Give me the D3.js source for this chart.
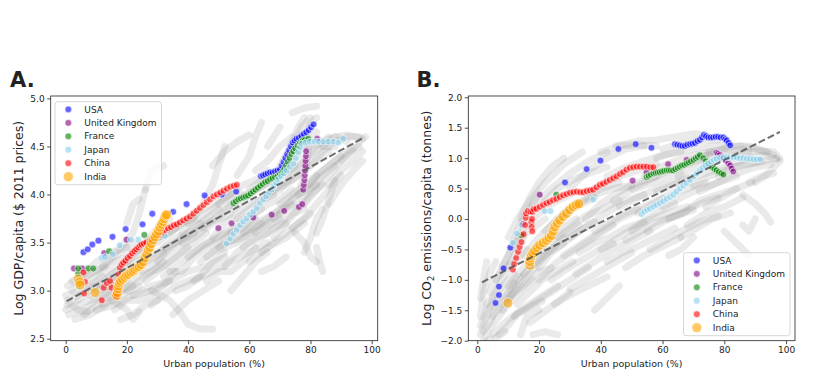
<!DOCTYPE html>
<html>
<head>
<meta charset="utf-8">
<script src="https://cdn.jsdelivr.net/npm/d3@7"></script>
<style>
  body { margin: 0; background: #fff; }
  svg text { font-family: "DejaVu Sans", sans-serif; fill: #222; }
</style>
</head>
<body>
<svg id="chart" width="831" height="376"></svg>
<script>
'use strict';

// Country series, panel A: [urban %, log GDP/capita]
const usaGdp = [[5.8,3.40],[7.2,3.43],[8.7,3.48],[10.7,3.52],[15.3,3.56],[19.6,3.64],[25.1,3.69],[28.3,3.80],[35.1,3.82],[39.5,3.90],[45.4,3.99],[51.0,4.00],[55.7,4.03],[63.8,4.19],[64.5,4.20],[65.2,4.21],[66.0,4.22],[66.8,4.23],[67.6,4.23],[68.4,4.24],[69.2,4.25],[70.0,4.26],[70.6,4.30],[71.2,4.34],[71.8,4.38],[72.4,4.42],[73.0,4.46],[73.6,4.50],[74.2,4.54],[74.8,4.56],[75.4,4.58],[76.2,4.59],[77.0,4.61],[77.8,4.63],[78.6,4.65],[79.4,4.67],[80.2,4.70],[81.0,4.73]];
const ukGdp = [[2.7,3.23],[5.4,3.23],[12.6,3.39],[19.9,3.53],[49.9,3.65],[54.2,3.70],[61.3,3.76],[67.3,3.79],[71.4,3.83],[76.2,3.87],[77.3,3.90],[77.6,4.05],[77.8,4.10],[78.0,4.15],[78.1,4.20],[78.2,4.25],[78.3,4.30],[78.4,4.35],[78.5,4.40],[78.6,4.45],[82.2,4.58]];
const franceGdp = [[4.1,3.18],[4.1,3.23],[7.4,3.23],[9.0,3.23],[14.2,3.41],[25.7,3.58],[54.8,3.91],[55.6,3.93],[56.4,3.95],[57.2,3.96],[58.0,3.97],[58.8,3.98],[59.6,3.99],[60.4,4.01],[61.2,4.03],[62.0,4.05],[62.8,4.07],[63.6,4.09],[64.4,4.11],[65.2,4.13],[66.0,4.14],[66.8,4.16],[67.6,4.17],[68.4,4.18],[69.2,4.19],[70.0,4.21],[70.8,4.23],[71.4,4.26],[72.0,4.30],[72.6,4.34],[73.2,4.38],[73.8,4.42],[74.4,4.45],[75.0,4.48],[75.8,4.51],[76.6,4.54],[77.4,4.56],[78.2,4.57],[79.3,4.58]];
const japanGdp = [[4.3,3.04],[4.8,3.07],[11.8,3.34],[12.8,3.35],[15.4,3.38],[17.7,3.47],[21.3,3.53],[23.7,3.53],[32.4,3.57],[52.6,3.49],[53.7,3.54],[54.8,3.59],[55.9,3.63],[57.0,3.68],[58.0,3.72],[59.1,3.75],[60.2,3.79],[61.3,3.82],[62.4,3.86],[63.5,3.91],[64.6,3.95],[65.5,3.98],[66.4,4.02],[67.3,4.05],[68.0,4.09],[68.8,4.12],[69.5,4.16],[70.4,4.19],[71.3,4.22],[72.2,4.25],[73.3,4.29],[74.4,4.32],[75.2,4.38],[76.0,4.44],[76.6,4.49],[77.1,4.53],[78.4,4.54],[79.8,4.55],[81.3,4.55],[82.7,4.55],[84.2,4.55],[85.8,4.55],[87.5,4.55],[89.1,4.54],[90.7,4.58]];
const chinaGdp = [[5.8,3.19],[6.3,3.09],[6.0,2.97],[11.8,2.90],[12.4,3.03],[13.4,3.08],[14.5,3.10],[15.0,3.03],[16.1,2.96],[16.6,2.94],[17.0,3.00],[17.2,3.10],[17.3,3.17],[17.7,3.24],[18.3,3.27],[18.8,3.29],[19.5,3.31],[20.2,3.34],[21.0,3.36],[21.7,3.39],[22.4,3.41],[23.0,3.43],[23.7,3.45],[24.3,3.47],[24.8,3.48],[25.5,3.49],[26.3,3.50],[27.5,3.52],[29.0,3.55],[30.5,3.58],[31.5,3.61],[32.4,3.63],[33.4,3.65],[34.4,3.66],[35.3,3.68],[36.3,3.69],[37.3,3.71],[38.4,3.73],[39.5,3.75],[40.6,3.77],[41.7,3.80],[42.8,3.83],[43.9,3.86],[45.0,3.89],[46.1,3.92],[47.2,3.95],[48.3,3.98],[49.4,4.00],[50.5,4.02],[51.6,4.04],[52.7,4.06],[53.8,4.08],[54.9,4.09],[55.9,4.10]];
const indiaGdp = [[4.1,3.12],[4.5,3.09],[4.7,3.06],[9.6,2.98],[16.7,2.95],[16.9,2.98],[17.1,3.02],[17.3,3.05],[17.6,3.08],[18.0,3.10],[18.6,3.12],[19.3,3.14],[19.9,3.16],[20.6,3.17],[21.3,3.19],[22.0,3.20],[22.6,3.22],[23.3,3.24],[24.0,3.25],[24.6,3.27],[25.3,3.30],[25.9,3.34],[26.5,3.38],[27.0,3.42],[27.5,3.45],[28.0,3.49],[28.6,3.53],[29.2,3.56],[29.7,3.59],[30.3,3.62],[30.8,3.66],[31.3,3.69],[31.8,3.72],[32.2,3.75],[32.6,3.78],[33.0,3.79]];

// Country series, panel B: [urban %, log CO2/capita]
const usaCo2 = [[5.9,-1.38],[7.0,-1.25],[7.0,-1.11],[8.5,-0.81],[10.7,-0.47],[28.4,0.60],[35.4,0.82],[39.9,0.96],[45.7,1.15],[51.3,1.23],[56.4,1.17],[64.0,1.23],[64.8,1.22],[65.6,1.21],[66.4,1.20],[67.2,1.20],[68.0,1.22],[68.9,1.23],[69.7,1.24],[70.5,1.25],[71.3,1.28],[72.1,1.30],[72.8,1.34],[73.4,1.38],[74.1,1.36],[74.8,1.34],[75.6,1.34],[76.4,1.34],[77.2,1.35],[78.0,1.35],[78.8,1.34],[79.7,1.34],[80.3,1.31],[80.8,1.29],[81.4,1.25],[81.9,1.21]];
const ukCo2 = [[14.8,-0.08],[20.2,0.40],[50.3,0.63],[54.8,0.77],[61.8,0.90],[67.8,0.97],[77.5,1.09],[78.0,1.07],[78.6,1.05],[79.2,1.02],[79.7,1.00],[80.5,0.96],[81.3,0.92],[81.9,0.88],[82.4,0.83],[82.9,0.78]];
const franceCo2 = [[14.3,-0.27],[25.6,0.40],[54.8,0.69],[55.5,0.71],[56.2,0.73],[57.0,0.75],[57.7,0.76],[58.4,0.77],[59.1,0.77],[59.8,0.78],[60.5,0.79],[61.3,0.80],[62.0,0.80],[62.7,0.80],[63.4,0.80],[64.1,0.82],[64.9,0.84],[65.6,0.86],[66.3,0.88],[67.0,0.89],[67.8,0.91],[68.5,0.93],[69.2,0.95],[70.0,0.97],[70.7,1.00],[71.4,1.02],[72.1,1.05],[73.2,1.00],[74.0,0.95],[74.7,0.91],[75.4,0.88],[76.1,0.85],[76.8,0.82],[77.5,0.80],[78.2,0.77],[79.0,0.75],[79.7,0.73]];
const japanCo2 = [[11.5,-0.39],[12.8,-0.24],[14.3,-0.10],[21.8,0.13],[23.7,0.13],[37.5,0.32],[53.2,0.08],[54.1,0.12],[55.0,0.15],[55.9,0.17],[57.0,0.20],[58.0,0.23],[59.1,0.26],[60.2,0.29],[61.3,0.33],[62.4,0.36],[63.5,0.40],[64.5,0.45],[65.6,0.50],[66.7,0.55],[67.8,0.59],[68.9,0.64],[70.0,0.70],[71.0,0.75],[72.1,0.80],[73.0,0.84],[73.9,0.88],[74.8,0.91],[75.7,0.94],[76.6,0.97],[77.5,0.99],[78.6,1.00],[79.7,1.01],[80.8,1.01],[81.9,1.01],[83.0,1.01],[84.0,1.01],[85.1,1.00],[86.2,1.00],[87.3,0.99],[88.3,0.99],[89.4,0.98],[90.5,0.98],[91.6,0.98]];
const chinaCo2 = [[11.5,-0.83],[11.9,-0.74],[12.6,-0.64],[13.2,-0.54],[13.7,-0.46],[14.3,-0.38],[15.0,-0.25],[15.5,-0.10],[15.7,0.02],[15.8,0.09],[16.4,0.13],[17.2,0.12],[17.5,-0.05],[17.6,-0.13],[17.8,-0.20],[17.7,0.00],[17.8,0.12],[18.3,0.16],[19.1,0.17],[20.2,0.20],[21.3,0.23],[22.4,0.26],[23.4,0.28],[24.5,0.31],[25.6,0.33],[26.7,0.36],[27.8,0.39],[28.9,0.41],[30.0,0.43],[31.1,0.44],[32.2,0.45],[33.3,0.44],[34.3,0.44],[35.4,0.46],[36.5,0.47],[37.5,0.48],[38.6,0.52],[39.7,0.56],[40.7,0.58],[41.8,0.61],[42.9,0.64],[44.0,0.67],[45.1,0.70],[46.2,0.74],[47.2,0.77],[48.3,0.81],[49.4,0.84],[50.5,0.85],[51.6,0.86],[52.7,0.86],[53.8,0.86],[54.9,0.86],[56.0,0.85],[57.0,0.85]];
const indiaCo2 = [[9.9,-1.38],[17.0,-0.76],[17.0,-0.70],[17.2,-0.64],[17.5,-0.60],[18.0,-0.56],[18.6,-0.52],[19.4,-0.47],[20.2,-0.43],[21.3,-0.39],[22.4,-0.35],[23.2,-0.31],[24.0,-0.27],[24.6,-0.20],[25.1,-0.13],[25.9,-0.07],[26.7,-0.02],[27.8,0.04],[28.9,0.09],[29.9,0.15],[31.0,0.20],[32.0,0.23],[32.9,0.25]];

// All other countries (grey background), one trajectory per array
const greyGdp = [
  [[0.5,2.85],[4,2.95],[8,3.05],[12,3.15]],
  [[1,2.75],[6,2.8],[10,2.9],[15,3.0],[20,3.1]],
  [[2,3.0],[5,3.1],[9,3.2],[13,3.25]],
  [[3,2.7],[8,2.75],[13,2.85],[18,2.95],[24,3.05]],
  [[5,3.15],[10,3.3],[15,3.4],[20,3.45]],
  [[8,2.95],[14,3.05],[20,3.2],[26,3.3],[32,3.4]],
  [[10,2.8],[16,2.85],[22,2.95],[28,3.05],[34,3.1]],
  [[12,3.25],[18,3.45],[22,3.6],[24,3.8],[26,4.05]],
  [[15,2.9],[20,2.8],[22,2.7],[24,2.78]],
  [[18,3.1],[24,3.25],[30,3.4],[36,3.5],[42,3.6]],
  [[20,3.3],[26,3.5],[30,3.65],[34,3.75]],
  [[22,2.95],[28,3.0],[34,2.9],[38,2.75],[40,2.65],[44,2.6],[48,2.6]],
  [[25,3.2],[30,3.3],[36,3.45],[42,3.55],[48,3.7],[54,3.8]],
  [[26,4.05],[28,4.25],[32,4.3]],
  [[28,3.0],[34,3.1],[40,3.2],[46,3.25],[52,3.35]],
  [[30,3.5],[36,3.65],[42,3.8],[48,3.9],[54,4.0]],
  [[32,3.15],[38,3.3],[44,3.45],[50,3.55],[56,3.65],[62,3.75]],
  [[35,2.75],[40,2.9],[45,3.0],[50,3.1]],
  [[38,3.6],[44,3.85],[48,4.1],[50,4.3],[52,4.5]],
  [[40,3.35],[46,3.5],[52,3.6],[58,3.75],[64,3.85]],
  [[42,3.1],[48,3.2],[54,3.3],[60,3.4],[66,3.5]],
  [[45,3.65],[50,3.8],[56,3.95],[62,4.05],[68,4.15]],
  [[48,4.3],[52,4.45],[56,4.55],[60,4.62]],
  [[50,3.45],[56,3.55],[62,3.7],[68,3.8],[74,3.9]],
  [[54,3.0],[58,3.15],[62,3.3],[66,3.4]],
  [[55,3.85],[60,4.0],[65,4.1],[70,4.2],[75,4.3]],
  [[56,4.2],[60,4.4],[62,4.6],[64,4.75]],
  [[58,3.6],[64,3.7],[70,3.85],[76,4.0],[82,4.1]],
  [[60,3.3],[66,3.45],[72,3.55],[78,3.7]],
  [[62,4.25],[66,4.35],[70,4.5],[74,4.6]],
  [[65,3.95],[70,4.05],[74,4.2],[78,4.35],[82,4.5],[86,4.6]],
  [[68,3.55],[72,3.7],[76,3.85],[80,4.0],[84,4.1]],
  [[70,4.3],[74,4.5],[77,4.7],[80,4.8]],
  [[74,4.85],[78,4.9],[82,4.92]],
  [[75,3.6],[78,3.5],[80,3.35],[82,3.3]],
  [[76,4.0],[78,4.2],[79,4.4],[80,4.6],[82,4.65]],
  [[78,3.9],[82,4.05],[86,4.2],[90,4.35],[94,4.45]],
  [[80,4.3],[84,4.45],[88,4.55],[92,4.6],[96,4.6]],
  [[82,3.6],[84,3.75],[86,3.95],[88,4.15]],
  [[84,4.5],[88,4.6],[92,4.62],[97,4.58]],
  [[86,3.9],[90,4.1],[94,4.25],[97,4.35]],
  [[0.5,3.05],[3,3.1],[6,3.2]],
  [[20,3.7],[22,3.9],[24,3.95]],
  [[64,3.2],[68,3.25],[72,3.35]],
  [[46,3.35],[52,3.5],[58,3.55],[64,3.65],[70,3.75]],
  [[82,3.45],[83,3.3],[84,3.2]],
  [[0,2.95],[5,3.0],[10,3.05],[15,3.1],[20,3.2],[25,3.3]],
  [[0,2.8],[4,2.85],[8,2.9],[12,2.95],[16,3.05]],
  [[2,3.1],[6,3.15],[10,3.2],[14,3.3],[18,3.4],[22,3.5]],
  [[4,2.9],[8,3.0],[12,3.1],[16,3.2],[20,3.25],[26,3.35]],
  [[6,2.75],[10,2.85],[14,2.95],[18,3.0],[22,3.05]],
  [[8,3.1],[12,3.2],[16,3.3],[20,3.35],[24,3.45],[28,3.55]],
  [[12,2.85],[16,2.95],[20,3.05],[24,3.15],[28,3.2],[32,3.3]],
  [[14,3.15],[18,3.25],[22,3.35],[26,3.4],[30,3.55],[36,3.65]],
  [[16,2.8],[20,2.9],[24,2.9],[28,2.95],[32,3.05],[36,3.2]],
  [[20,3.0],[24,3.1],[28,3.2],[32,3.25],[36,3.35],[40,3.45]],
  [[22,3.4],[26,3.45],[30,3.55],[34,3.6],[38,3.7],[42,3.75]],
  [[26,3.1],[30,3.2],[34,3.3],[38,3.4],[42,3.5],[46,3.6]],
  [[28,2.85],[32,2.95],[36,3.05],[40,3.1],[44,3.15]],
  [[30,3.3],[34,3.45],[38,3.55],[42,3.65],[46,3.75],[50,3.85]],
  [[34,3.2],[38,3.2],[42,3.35],[46,3.45],[50,3.5],[54,3.6]],
  [[36,3.0],[40,3.05],[44,3.15],[48,3.3],[52,3.4]],
  [[38,3.5],[42,3.6],[46,3.7],[50,3.75],[54,3.9],[58,4.0]],
  [[40,3.7],[44,3.75],[48,3.85],[52,3.95],[56,4.05]],
  [[44,3.3],[48,3.4],[52,3.45],[56,3.5],[60,3.6],[64,3.7]],
  [[46,3.1],[50,3.2],[54,3.2],[58,3.3],[62,3.45]],
  [[48,3.55],[52,3.7],[56,3.8],[60,3.9],[64,3.95],[68,4.0]],
  [[50,3.9],[54,4.0],[58,4.1],[62,4.15],[66,4.25]],
  [[52,3.25],[56,3.4],[60,3.5],[64,3.55],[68,3.65],[72,3.7]],
  [[54,3.6],[58,3.65],[62,3.8],[66,3.9],[70,3.95],[74,4.05]],
  [[56,3.75],[60,3.85],[64,3.95],[68,4.05],[72,4.1],[76,4.2]],
  [[58,3.45],[62,3.55],[66,3.6],[70,3.7],[74,3.8],[78,3.85]],
  [[60,4.05],[64,4.15],[68,4.2],[72,4.3],[76,4.4]],
  [[62,3.6],[66,3.7],[70,3.8],[74,3.95],[78,4.05],[82,4.2]],
  [[64,3.4],[68,3.5],[72,3.6],[76,3.7],[80,3.8]],
  [[66,4.0],[70,4.1],[74,4.15],[78,4.25],[82,4.35],[86,4.45]],
  [[68,3.75],[72,3.85],[76,3.9],[80,4.05],[84,4.2],[88,4.3]],
  [[70,3.9],[74,4.0],[78,4.1],[82,4.2],[86,4.3],[90,4.4]],
  [[72,4.2],[76,4.3],[80,4.4],[84,4.5],[88,4.5]],
  [[74,3.65],[78,3.75],[82,3.9],[86,4.05],[90,4.2]],
  [[76,4.45],[80,4.5],[84,4.55],[88,4.6],[92,4.55]],
  [[78,3.4],[80,3.55],[82,3.75],[84,3.85]],
  [[80,4.1],[84,4.25],[88,4.35],[92,4.45],[96,4.5]],
  [[72,4.4],[74,4.55],[76,4.7],[78,4.8]],
  [[78,4.5],[79,4.65],[80,4.75],[82,4.8]],
  [[66,4.5],[68,4.6],[70,4.7]],
  [[86,4.1],[90,4.25],[94,4.35],[97,4.45]],
  [[90,4.35],[93,4.45],[96,4.55],[98,4.6]],
  [[0.5,2.9],[2,2.85],[4,2.8],[7,2.78]],
  [[10,3.0],[14,3.05],[18,3.15],[22,3.2]],
  [[32,3.45],[36,3.55],[40,3.6],[44,3.7]],
  [[18,2.7],[22,2.75],[26,2.85],[30,2.9]]
];
const greyCo2 = [
  [[1,-1.9],[3,-1.6],[5,-1.3],[8,-1.1],[12,-0.9]],
  [[2,-2.0],[4,-1.8],[7,-1.6],[10,-1.4],[14,-1.2],[18,-1.0]],
  [[3,-1.4],[6,-1.2],[9,-0.9],[12,-0.6],[15,-0.3]],
  [[5,-1.9],[9,-1.7],[14,-1.5],[20,-1.3],[26,-1.1]],
  [[6,-1.0],[10,-0.6],[13,-0.2],[16,0.1],[20,0.4]],
  [[8,-1.5],[12,-1.2],[17,-0.9],[22,-0.6],[28,-0.3]],
  [[10,-0.3],[13,0.0],[17,0.3],[22,0.6],[28,0.9],[34,1.1]],
  [[10,-1.1],[15,-0.8],[20,-0.5],[26,-0.2],[32,0.0]],
  [[12,-1.6],[18,-1.4],[24,-1.2],[30,-1.0],[36,-0.8]],
  [[15,-0.6],[20,-0.3],[26,0.0],[32,0.2],[38,0.35]],
  [[18,-1.9],[22,-1.85],[26,-1.9]],
  [[18,0.2],[24,0.5],[30,0.75],[36,0.95],[42,1.1]],
  [[20,-1.0],[26,-0.7],[32,-0.5],[38,-0.3],[44,-0.1]],
  [[22,-0.2],[28,0.1],[34,0.3],[40,0.5],[46,0.6]],
  [[25,-1.4],[30,-1.25],[36,-1.1],[42,-0.95]],
  [[28,-0.6],[34,-0.4],[40,-0.2],[46,0.0],[52,0.15]],
  [[30,0.5],[36,0.8],[42,1.0],[48,1.15],[54,1.2]],
  [[32,-0.9],[38,-0.7],[44,-0.5],[50,-0.35],[56,-0.2]],
  [[35,0.0],[40,0.25],[46,0.45],[52,0.6],[58,0.7]],
  [[38,-1.5],[42,-1.3],[46,-1.1]],
  [[40,-0.5],[46,-0.3],[52,-0.1],[58,0.1],[64,0.25]],
  [[42,0.7],[48,0.85],[54,0.95],[60,1.05],[66,1.1]],
  [[45,1.2],[52,1.28],[58,1.3],[64,1.35],[70,1.4],[74,1.38]],
  [[46,0.2],[52,0.35],[58,0.5],[64,0.6],[70,0.7]],
  [[48,-0.8],[54,-0.6],[60,-0.45],[66,-0.3]],
  [[50,0.5],[56,0.65],[62,0.8],[68,0.9],[74,1.0]],
  [[55,-0.2],[60,-0.05],[66,0.1],[72,0.25],[78,0.35]],
  [[58,1.0],[64,1.1],[70,1.15],[76,1.2],[82,1.22]],
  [[60,0.2],[66,0.35],[72,0.5],[78,0.6],[84,0.7]],
  [[62,-0.6],[66,-0.5],[70,-0.3]],
  [[65,0.7],[70,0.85],[76,0.95],[82,1.05],[88,1.1]],
  [[68,-0.1],[74,0.1],[80,0.2],[86,0.35]],
  [[72,0.45],[78,0.6],[84,0.75],[90,0.85],[95,0.9]],
  [[75,1.1],[80,1.15],[85,1.2],[90,1.15],[96,1.05]],
  [[80,-0.2],[84,-0.4],[88,-0.6]],
  [[82,0.9],[88,1.0],[93,1.05],[97,0.98]],
  [[86,0.4],[90,0.25],[93,0.1],[95,-0.05]],
  [[88,0.6],[92,0.7],[96,0.75]],
  [[1,-1.6],[2,-1.2],[4,-0.9],[6,-0.7]],
  [[14,-1.9],[16,-1.6],[20,-1.5]],
  [[50,-0.2],[56,0.0],[62,0.1],[68,0.2]],
  [[30,-0.3],[36,-0.1],[42,0.1],[48,0.3],[54,0.4]],
  [[1,-1.75],[3,-1.5],[5,-1.4],[8,-1.25],[11,-1.1],[14,-0.95]],
  [[2,-1.85],[4,-1.7],[6,-1.45],[9,-1.3],[12,-1.05]],
  [[4,-1.2],[6,-1.0],[9,-0.8],[12,-0.7],[16,-0.5]],
  [[5,-1.6],[8,-1.4],[11,-1.25],[15,-1.1],[19,-0.9],[24,-0.8]],
  [[7,-1.9],[10,-1.75],[13,-1.55],[17,-1.45],[21,-1.35]],
  [[8,-0.8],[11,-0.5],[14,-0.3],[18,-0.15],[22,0.0]],
  [[10,-1.3],[14,-1.0],[18,-0.75],[23,-0.55],[28,-0.4]],
  [[12,-0.4],[15,-0.15],[19,0.05],[24,0.25],[30,0.4]],
  [[13,-1.4],[17,-1.2],[21,-1.0],[26,-0.85],[31,-0.7]],
  [[15,-0.9],[19,-0.7],[23,-0.45],[28,-0.25],[33,-0.1]],
  [[17,-1.7],[21,-1.55],[25,-1.4],[30,-1.2]],
  [[20,-0.8],[24,-0.55],[28,-0.4],[33,-0.2],[38,-0.05]],
  [[22,0.3],[26,0.5],[31,0.65],[36,0.75],[42,0.85]],
  [[24,-1.0],[28,-0.85],[33,-0.7],[38,-0.55],[44,-0.4]],
  [[26,-0.3],[30,-0.15],[35,0.05],[40,0.15],[46,0.3]],
  [[28,0.1],[33,0.25],[38,0.4],[44,0.5],[50,0.55]],
  [[30,-1.15],[35,-1.0],[40,-0.85],[45,-0.7],[50,-0.55]],
  [[33,-0.55],[38,-0.4],[43,-0.3],[48,-0.15],[54,-0.05]],
  [[36,0.45],[41,0.6],[46,0.7],[52,0.8],[58,0.9]],
  [[38,-0.2],[43,-0.05],[48,0.1],[54,0.2],[60,0.35]],
  [[42,-0.7],[47,-0.55],[52,-0.45],[58,-0.3],[64,-0.15]],
  [[44,0.3],[49,0.45],[54,0.55],[60,0.65],[66,0.75]],
  [[48,-0.35],[53,-0.2],[58,-0.05],[64,0.05],[70,0.15]],
  [[52,0.1],[57,0.25],[62,0.4],[68,0.5],[74,0.6]],
  [[54,0.7],[59,0.85],[64,0.95],[70,1.05],[76,1.1]],
  [[56,-0.5],[61,-0.35],[66,-0.2],[72,-0.05],[78,0.05]],
  [[58,0.45],[63,0.55],[68,0.65],[74,0.75],[80,0.85]],
  [[62,0.0],[67,0.1],[72,0.3],[78,0.4],[84,0.5]],
  [[64,0.8],[69,0.95],[74,1.05],[80,1.1],[86,1.15]],
  [[66,-0.3],[71,-0.15],[76,0.0],[82,0.1]],
  [[70,0.55],[75,0.7],[80,0.8],[86,0.9],[92,0.95]],
  [[72,1.0],[77,1.1],[82,1.2],[88,1.2],[94,1.1]],
  [[74,0.2],[79,0.35],[84,0.5],[89,0.6]],
  [[78,0.7],[83,0.85],[88,0.9],[93,0.95],[97,1.0]],
  [[84,1.05],[88,1.1],[92,1.12],[96,1.1],[98,1.0]],
  [[90,0.6],[93,0.7],[96,0.85],[98,0.95]],
  [[1,-1.3],[2,-1.0],[3,-0.7]],
  [[3,-2.0],[6,-1.95],[9,-1.85]],
  [[40,1.1],[46,1.2],[52,1.22],[58,1.2]],
  [[14,0.0],[17,0.35],[20,0.6],[24,0.85],[28,1.0]],
  [[60,1.15],[66,1.25],[72,1.3],[78,1.3]],
  [[86,-0.1],[88,-0.2],[90,0.0]]
];

// Regression lines (endpoints of the fitted trend)
const fitGdp = [[0.3,2.89],[97.3,4.59]];
const fitCo2 = [[1.5,-1.04],[98,1.43]];

const countries = ['USA', 'United Kingdom', 'France', 'Japan', 'China', 'India'];
const colors = ['#0000ff', '#800080', '#008000', '#87ceeb', '#ff0000', '#ffa500'];
const xTicks = [0, 20, 40, 60, 80, 100];
const gdpTicks = [2.5, 3.0, 3.5, 4.0, 4.5, 5.0];
const co2Ticks = [-2.0, -1.5, -1.0, -0.5, 0.0, 0.5, 1.0, 1.5, 2.0];

const svg = d3.select('#chart');
svg.append('rect').attr('width', 831).attr('height', 376).attr('fill', '#fff');

function drawPanel (cfg) {
  const x = d3.scaleLinear().domain(cfg.xDomain).range([cfg.left, cfg.right]);
  const y = d3.scaleLinear().domain(cfg.yDomain).range([cfg.bottom, cfg.top]);
  const g = svg.append('g');

  const clipId = 'clip-' + cfg.label[0];
  g.append('clipPath').attr('id', clipId)
    .append('rect')
      .attr('x', cfg.left).attr('y', cfg.top)
      .attr('width', cfg.right - cfg.left).attr('height', cfg.bottom - cfg.top);

  const plot = g.append('g').attr('clip-path', 'url(#' + clipId + ')');
  const line = d3.line().x(d => x(d[0])).y(d => y(d[1]));

  // grey cloud of other countries
  plot.append('g')
    .selectAll('path')
    .data(cfg.grey)
    .enter()
    .append('path')
      .attr('d', line)
      .attr('fill', 'none')
      .attr('stroke', '#808080')
      .attr('stroke-opacity', 0.17)
      .attr('stroke-width', 7)
      .attr('stroke-linecap', 'round')
      .attr('stroke-linejoin', 'round');

  // highlighted countries
  cfg.series.forEach((pts, i) => {
    plot.append('g')
      .selectAll('circle')
      .data(pts)
      .enter()
      .append('circle')
        .attr('cx', d => x(d[0]))
        .attr('cy', d => y(d[1]))
        .attr('r', i === 5 ? 5 : 3.4)
        .attr('fill', colors[i])
        .attr('fill-opacity', 0.6)
        .attr('stroke', '#fff')
        .attr('stroke-width', 0.6);
  });

  // trend line
  plot.append('path')
    .attr('d', line(cfg.fit))
    .attr('fill', 'none')
    .attr('stroke', '#555')
    .attr('stroke-opacity', 0.85)
    .attr('stroke-width', 2)
    .attr('stroke-dasharray', '7,3');

  // axes
  const xAxis = g.append('g')
    .attr('transform', 'translate(0,' + cfg.bottom + ')')
    .call(d3.axisBottom(x).tickValues(xTicks).tickSize(3.5).tickPadding(2.5).tickFormat(d3.format('d')));
  const yAxis = g.append('g')
    .attr('transform', 'translate(' + cfg.left + ',0)')
    .call(d3.axisLeft(y).tickValues(cfg.yTicks).tickSize(3.5).tickPadding(2.5).tickFormat(d3.format('.1f')));
  [xAxis, yAxis].forEach(a => {
    a.select('.domain').remove();
    a.selectAll('line').attr('stroke', '#222').attr('stroke-width', 0.8);
    a.selectAll('text').attr('font-size', 9).attr('font-family', '"DejaVu Sans", sans-serif').attr('fill', '#222');
  });

  g.append('rect')
    .attr('x', cfg.left).attr('y', cfg.top)
    .attr('width', cfg.right - cfg.left).attr('height', cfg.bottom - cfg.top)
    .attr('fill', 'none')
    .attr('stroke', '#222')
    .attr('stroke-width', 0.8);

  // labels
  g.append('text')
    .attr('x', (cfg.left + cfg.right) / 2)
    .attr('y', 367)
    .attr('text-anchor', 'middle')
    .attr('font-size', 9.5)
    .text('Urban population (%)');

  const yl = g.append('text')
    .attr('transform', 'translate(' + cfg.yLabelX + ',' + (cfg.top + cfg.bottom) / 2 + ') rotate(-90)')
    .attr('text-anchor', 'middle')
    .attr('font-size', 12.5);
  cfg.yLabel(yl);

  g.append('text')
    .attr('x', cfg.labelX)
    .attr('y', 87)
    .attr('font-size', 21)
    .attr('font-weight', 'bold')
    .attr('fill', '#000')
    .text(cfg.label);

  // legend
  const lg = g.append('g').attr('transform', 'translate(' + cfg.legend[0] + ',' + cfg.legend[1] + ')');
  lg.append('rect')
    .attr('width', 106.5).attr('height', 83)
    .attr('rx', 2.5)
    .attr('fill', '#fff').attr('fill-opacity', 0.8)
    .attr('stroke', '#ccc').attr('stroke-width', 0.8);
  const items = lg.selectAll('g.item')
    .data(countries)
    .enter()
    .append('g')
      .attr('class', 'item')
      .attr('transform', (d, i) => 'translate(0,' + (7.7 + i * 13.45) + ')');
  items.append('circle')
    .attr('cx', 13.3)
    .attr('r', (d, i) => i === 5 ? 5 : 3.4)
    .attr('fill', (d, i) => colors[i])
    .attr('fill-opacity', 0.6)
    .attr('stroke', '#fff')
    .attr('stroke-width', 0.6);
  items.append('text')
    .attr('x', 29.3)
    .attr('dy', '0.35em')
    .attr('font-size', 9)
    .text(d => d);
}

drawPanel({
  label: 'A.', labelX: 10,
  left: 50.7, right: 377.7, top: 96, bottom: 340.7,
  xDomain: [-4.9, 101.96], yDomain: [2.479, 5.025],
  yTicks: gdpTicks,
  grey: greyGdp,
  series: [usaGdp, ukGdp, franceGdp, japanGdp, chinaGdp, indiaGdp],
  fit: fitGdp,
  yLabelX: 23,
  yLabel: t => t.text('Log GDP/capita ($ 2011 prices)'),
  legend: [55, 101.7]
});

drawPanel({
  label: 'B.', labelX: 416.5,
  left: 468.3, right: 795, top: 96, bottom: 340.7,
  xDomain: [-2.92, 102.9], yDomain: [-2.0, 2.021],
  yTicks: co2Ticks,
  grey: greyCo2,
  series: [usaCo2, ukCo2, franceCo2, japanCo2, chinaCo2, indiaCo2],
  fit: fitCo2,
  yLabelX: 431,
  yLabel: t => {
    t.append('tspan').text('Log CO');
    t.append('tspan').attr('font-size', 8.5).attr('dy', 3).text('2');
    t.append('tspan').attr('dy', -3).text(' emissions/capita (tonnes)');
  },
  legend: [683.5, 252.7]
});
</script>
</body>
</html>
